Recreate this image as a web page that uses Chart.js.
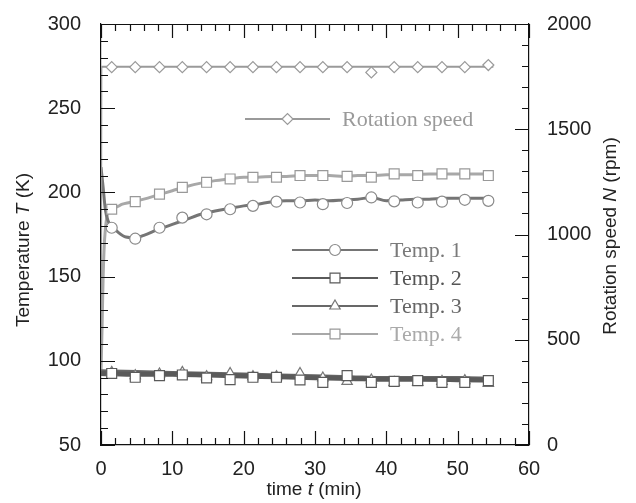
<!DOCTYPE html>
<html>
<head>
<meta charset="utf-8">
<script src="https://cdn.jsdelivr.net/npm/chart.js@4.4.1/dist/chart.umd.min.js"></script>
<style>
  html, body { margin: 0; padding: 0; background: #fff; }
  #wrap { width: 636px; height: 503px; position: relative; }
</style>
</head>
<body>
<div id="wrap"><canvas id="tempChart"></canvas></div>
<script>
// marker times (min), same for every series
const markTimes = [1.5, 4.8, 8.2, 11.4, 14.8, 18.1, 21.3, 24.6, 27.9, 31.1, 34.5, 37.9, 41.1, 44.4, 47.8, 51.0, 54.3];

// values at the markers
const rotMarks   = [1795, 1795, 1795, 1795, 1795, 1795, 1795, 1795, 1795, 1795, 1795, 1770, 1795, 1795, 1795, 1795, 1805];
const temp1Marks = [179, 172.5, 179, 185, 187, 190, 192, 194.5, 194, 193, 193.7, 197, 194.7, 194, 194.5, 195.6, 195];
const temp2Marks = [92.5, 90.2, 91.2, 91.6, 89.8, 88.8, 90.2, 90.2, 88.6, 87.2, 91.2, 87.2, 87.8, 88.2, 87.2, 87.2, 88.2];
const temp3Marks = [93.1, 91.2, 92.2, 93.1, 90.6, 92.5, 90.6, 90.6, 92.5, 89.8, 87.8, 88.6, 87.2, 87.2, 87.8, 88.2, 86.6];
const temp4Marks = [190, 194.5, 199, 203, 206, 208, 209, 209, 210, 210, 209.5, 209, 211, 210, 211, 211, 210];

const rotLineT   = [0, 0.05, 5, 10, 20, 30, 40, 50, 55];
const rotLine    = [380, 1797, 1797, 1797, 1797, 1797, 1797, 1797, 1797];

const temp1LineT = [0, 0.3, 0.6, 1.0, 1.5, 2.5, 3.5, 4.8, 6, 8, 10, 12, 14, 16, 18, 20, 22, 24, 26, 28, 30, 32, 34, 36, 38, 40, 42, 44, 46, 48, 50, 52, 54, 55];
const temp1Line  = [215, 203, 190, 183, 180, 176, 173.5, 173, 174.5, 178, 181, 184, 187, 189, 190.5, 192, 193, 194.5, 195, 195, 195.5, 195, 195.5, 196, 197, 195, 195.5, 196, 196, 196.5, 196.5, 196.5, 196.5, 196];

const temp4LineT = [0, 0.15, 0.3, 0.5, 0.8, 1.2, 2, 3, 4, 6, 8, 10, 12, 14, 16, 18, 20, 22, 24, 26, 28, 30, 32, 34, 36, 38, 40, 42, 44, 46, 48, 50, 52, 54, 55];
const temp4Line  = [93, 120, 150, 172, 185, 190, 191, 193, 194, 196, 198.5, 201, 203.5, 205.5, 207, 208, 209, 209, 209.5, 209.5, 210, 210, 210, 209.5, 210, 210, 210.5, 210.5, 210.5, 211, 211, 211, 211, 211, 211];

const lowLineT   = [0, 5, 10, 15, 20, 25, 30, 35, 40, 45, 50, 55];
const temp2Line  = [92.5, 92, 92, 91.5, 91, 90.5, 90, 89.5, 89, 89, 88.8, 88.5];
const temp3Line  = [93.5, 93, 92.5, 92, 91.5, 91, 90.5, 90, 89.5, 89.5, 89.5, 89];

const xTicks = { min: 0, max: 60, step: 2, major: 10 };
const tTicks = { min: 50, max: 300, step: 10, major: 50 };
const nTicks = { min: 0, max: 2000, step: 100, major: 500 };

const series = [
  { label: 'Rotation speed', axis: 'y2', lineT: rotLineT, line: rotLine, marks: rotMarks, style: 'rectRot', r: 5.5, lineColor: '#9a9a9a', markColor: '#9a9a9a', textColor: '#9a9a9a', width: 2 },
  { label: 'Temp. 1', axis: 'y', lineT: temp1LineT, line: temp1Line, marks: temp1Marks, style: 'circle', r: 5.5, lineColor: '#757575', markColor: '#8a8a8a', textColor: '#7a7a7a', width: 3 },
  { label: 'Temp. 2', axis: 'y', lineT: lowLineT, line: temp2Line, marks: temp2Marks, style: 'rect', r: 7, lineColor: '#5a5a5a', markColor: '#5a5a5a', textColor: '#555555', width: 5 },
  { label: 'Temp. 3', axis: 'y', lineT: lowLineT, line: temp3Line, marks: temp3Marks, style: 'triangle', r: 6, lineColor: '#686868', markColor: '#777777', textColor: '#666666', width: 5 },
  { label: 'Temp. 4', axis: 'y', lineT: temp4LineT, line: temp4Line, marks: temp4Marks, style: 'rect', r: 7, lineColor: '#a8a8a8', markColor: '#999999', textColor: '#aaaaaa', width: 3 }
];

const pairs = (xs, ys) => xs.map((x, i) => ({ x: x, y: ys[i] }));

const datasets = [];
series.forEach(s => {
  datasets.push({
    label: s.label + ' line',
    data: pairs(s.lineT, s.line),
    yAxisID: s.axis,
    borderColor: s.lineColor,
    borderWidth: s.width,
    pointRadius: 0,
    cubicInterpolationMode: 'monotone',
    order: 2
  });
});
series.forEach(s => {
  datasets.push({
    label: s.label,
    data: pairs(markTimes, s.marks),
    yAxisID: s.axis,
    showLine: false,
    pointStyle: s.style,
    pointRadius: s.r,
    pointBorderWidth: 1.2,
    pointBorderColor: s.markColor,
    pointBackgroundColor: '#ffffff',
    order: 1
  });
});

const tickFont = { family: 'Liberation Sans, Arial, sans-serif', size: 20 };
const titleFont = '19px "Liberation Sans", Arial, sans-serif';
const titleItalic = 'italic 19px "Liberation Sans", Arial, sans-serif';
const legendFont = '22px "Liberation Serif", "Times New Roman", serif';

function labelEvery(major) {
  return (v) => (v % major === 0 ? String(v) : '');
}

// inward tick marks on all four sides
const inwardTicks = {
  id: 'inwardTicks',
  afterDraw(chart) {
    const c = chart.ctx, a = chart.chartArea;
    c.save();
    c.strokeStyle = '#111';
    c.lineWidth = 1.2;
    c.beginPath();
    const xs = chart.scales.x;
    xs.ticks.forEach(t => {
      const p = Math.round(xs.getPixelForValue(t.value)) + 0.5;
      const len = t.value % xTicks.major === 0 ? 14 : 7;
      c.moveTo(p, a.bottom); c.lineTo(p, a.bottom - len);
      c.moveTo(p, a.top); c.lineTo(p, a.top + len);
    });
    const ys = chart.scales.y;
    ys.ticks.forEach(t => {
      const p = Math.round(ys.getPixelForValue(t.value)) + 0.5;
      const len = t.value % tTicks.major === 0 ? 14 : 7;
      c.moveTo(a.left, p); c.lineTo(a.left + len, p);
    });
    const ns = chart.scales.y2;
    ns.ticks.forEach(t => {
      const p = Math.round(ns.getPixelForValue(t.value)) + 0.5;
      const len = t.value % nTicks.major === 0 ? 14 : 7;
      c.moveTo(a.right, p); c.lineTo(a.right - len, p);
    });
    // top frame line
    c.moveTo(a.left, a.top + 0.5); c.lineTo(a.right, a.top + 0.5);
    c.stroke();
    c.restore();
  }
};

// draws text pieces in sequence, some italic, centred on (0,0)
function drawMixed(c, parts) {
  let total = 0;
  parts.forEach(p => { c.font = p[1] ? titleItalic : titleFont; total += c.measureText(p[0]).width; });
  let x = -total / 2;
  parts.forEach(p => {
    c.font = p[1] ? titleItalic : titleFont;
    c.fillText(p[0], x, 0);
    x += c.measureText(p[0]).width;
  });
}

const axisTitles = {
  id: 'axisTitles',
  afterDraw(chart) {
    const c = chart.ctx, a = chart.chartArea;
    c.save();
    c.fillStyle = '#222';
    c.textBaseline = 'middle';
    c.textAlign = 'left';
    c.save();
    c.translate((a.left + a.right) / 2 - 1, 490);
    drawMixed(c, [['time ', false], ['t', true], [' (min)', false]]);
    c.restore();
    c.save();
    c.translate(24, 250);
    c.rotate(-Math.PI / 2);
    drawMixed(c, [['Temperature ', false], ['T', true], [' (K)', false]]);
    c.restore();
    c.save();
    c.translate(611, 236);
    c.rotate(-Math.PI / 2);
    drawMixed(c, [['Rotation speed ', false], ['N', true], [' (rpm)', false]]);
    c.restore();
    c.restore();
  }
};

// legend: line with a marker in its middle, serif label
const legendRows = [
  { x0: 245, x1: 330, y: 119 },
  { x0: 292, x1: 378, y: 250 },
  { x0: 292, x1: 378, y: 278 },
  { x0: 292, x1: 378, y: 306 },
  { x0: 292, x1: 378, y: 334 }
];
const lineLegend = {
  id: 'lineLegend',
  afterDraw(chart) {
    const c = chart.ctx;
    c.save();
    series.forEach((s, i) => {
      const row = legendRows[i];
      c.strokeStyle = s.lineColor;
      c.lineWidth = 2;
      c.beginPath();
      c.moveTo(row.x0, row.y); c.lineTo(row.x1, row.y);
      c.stroke();
      c.fillStyle = '#fff';
      c.strokeStyle = s.markColor;
      c.lineWidth = 1.2;
      const mx = (row.x0 + row.x1) / 2;
      Chart.helpers.drawPoint(c, { pointStyle: s.style, radius: s.r, borderWidth: 1.2 }, mx, row.y);
      c.fillStyle = s.textColor;
      c.font = legendFont;
      c.textBaseline = 'middle';
      c.textAlign = 'left';
      c.fillText(s.label, row.x1 + 12, row.y + 1);
    });
    c.restore();
  }
};

new Chart(document.getElementById('tempChart'), {
  type: 'line',
  data: { datasets: datasets },
  options: {
    responsive: true,
    maintainAspectRatio: false,
    animation: false,
    layout: { padding: { top: 20, left: 0, right: 0, bottom: 0 } },
    plugins: {
      legend: { display: false },
      tooltip: { enabled: false }
    },
    scales: {
      x: {
        type: 'linear',
        min: xTicks.min, max: xTicks.max,
        grid: { display: false },
        border: { display: true, color: '#111', width: 1.2 },
        ticks: { stepSize: xTicks.step, autoSkip: false, maxRotation: 0, padding: 4, color: '#222', font: tickFont, callback: labelEvery(xTicks.major) },
        afterFit: (s) => { s.height = 58; }
      },
      y: {
        type: 'linear',
        position: 'left',
        min: tTicks.min, max: tTicks.max,
        grid: { display: false },
        border: { display: true, color: '#111', width: 1.2 },
        ticks: { stepSize: tTicks.step, autoSkip: false, padding: 12, color: '#222', font: tickFont, callback: labelEvery(tTicks.major) },
        afterFit: (s) => { s.width = 101; }
      },
      y2: {
        type: 'linear',
        position: 'right',
        min: nTicks.min, max: nTicks.max,
        grid: { display: false },
        border: { display: true, color: '#111', width: 1.2 },
        ticks: { stepSize: nTicks.step, autoSkip: false, padding: 10, color: '#222', font: tickFont, callback: labelEvery(nTicks.major) },
        afterFit: (s) => { s.width = 107; }
      }
    }
  },
  plugins: [inwardTicks, axisTitles, lineLegend]
});
</script>
</body>
</html>
